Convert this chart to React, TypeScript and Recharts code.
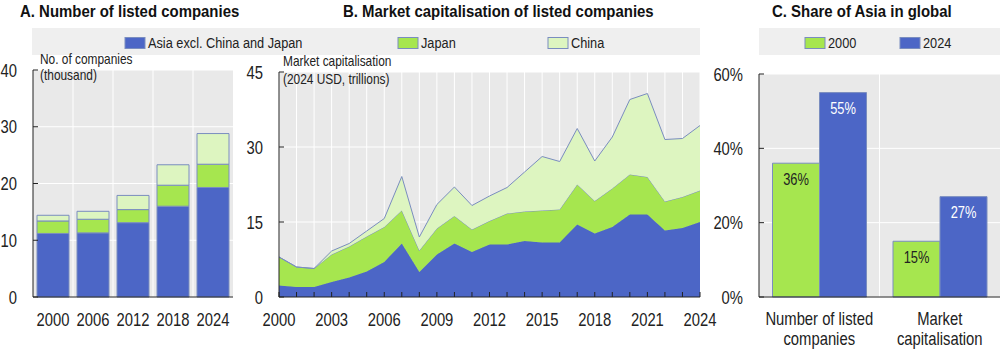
import React from 'react';
import { BarChart, Bar, AreaChart, Area, XAxis, YAxis, CartesianGrid, LabelList } from 'recharts';

// ---- Panel A: number of listed companies (thousand)
const yearsA = [2000, 2006, 2012, 2018, 2024];
const asiaA = [11.2, 11.3, 13.1, 16.0, 19.3];
const japanA = [2.2, 2.4, 2.3, 3.7, 4.1];
const chinaA = [1.0, 1.4, 2.5, 3.6, 5.4];
const ticksA = [0, 10, 20, 30, 40];

// ---- Panel B: market capitalisation (2024 USD, trillions)
const yearsB = [2000, 2001, 2002, 2003, 2004, 2005, 2006, 2007, 2008, 2009, 2010, 2011, 2012, 2013, 2014, 2015, 2016, 2017, 2018, 2019, 2020, 2021, 2022, 2023, 2024];
const asiaB = [2.3, 2.0, 2.0, 3.0, 3.9, 5.1, 7.0, 10.7, 5.0, 8.5, 10.7, 9.0, 10.5, 10.5, 11.2, 10.9, 10.9, 14.5, 12.7, 14.0, 16.5, 16.5, 13.3, 13.8, 15.0];
const japanB = [5.7, 4.0, 3.7, 5.5, 6.2, 7.0, 7.0, 6.6, 4.3, 5.2, 5.5, 4.5, 4.7, 6.2, 5.9, 6.4, 6.6, 8.0, 6.5, 7.7, 8.0, 7.5, 5.8, 6.2, 6.3];
const chinaB = [0, 0, 0, 0.7, 0.6, 1.1, 1.7, 6.8, 2.7, 4.8, 5.8, 4.8, 5.0, 5.2, 7.9, 10.8, 9.6, 11.2, 8.0, 10.3, 15.0, 16.7, 12.4, 11.7, 13.0];
const ticksB = [0, 15, 30, 45];

// ---- Panel C: share of Asia in global (%)
const categoriesC = ['Number of listed companies', 'Market capitalisation'];
const share2000 = [36, 15];
const share2024 = [55, 27];
const ticksC = [0, 20, 40, 60];

const seriesNames = ['Asia excl. China and Japan', 'Japan', 'China'];
const legendC = ['2000', '2024'];
const titles = ['A. Number of listed companies', 'B. Market capitalisation of listed companies', 'C. Share of Asia in global'];
const unitA = ['No. of companies', '(thousand)'];
const unitB = ['Market capitalisation', '(2024 USD, trillions)'];

const FONT = "'Liberation Sans', Arial, sans-serif";
const BLUE = '#4C66C6';
const GREEN = '#A6E64F';
const LIGHT = '#DDF5C0';
const OUTLINE = '#7A8DBF';
const PLOT_BG = '#E9E9E9';
const LEGEND_BG = '#EFEFEF';
const AXIS = '#222222';
const TICK_FS = 18.5;
const SX = 0.8; // horizontal condensing to mimic a narrow face

const dataA = yearsA.map((y, i) => ({ year: String(y), asia: asiaA[i], japan: japanA[i], china: chinaA[i] }));
const dataB = yearsB.map((y, i) => ({ year: y, asia: asiaB[i], japan: japanB[i], china: chinaB[i] }));
const dataC = categoriesC.map((c, i) => ({ cat: c, y2000: share2000[i], y2024: share2024[i] }));

type NTProps = {
  x: number; y: number; size: number; sx?: number; anchor?: 'start' | 'middle' | 'end';
  weight?: string; fill?: string; dy?: string; children: React.ReactNode;
};
const NText = ({ x, y, size, sx = SX, anchor = 'start', weight = 'normal', fill = AXIS, dy, children }: NTProps) => (
  <text
    transform={`translate(${x},${y}) scale(${sx},1)`}
    x={0}
    y={0}
    dy={dy}
    textAnchor={anchor}
    fontSize={size}
    fontWeight={weight}
    fill={fill}
    fontFamily={FONT}
  >
    {children}
  </text>
);

const makeTick = (fmt: (v: any) => string, anchor: 'middle' | 'end', dy: string) => (props: any) => {
  const { x, y, payload } = props;
  const s = fmt(payload.value);
  if (!s) return <g />;
  return <NText x={x} y={y} size={TICK_FS} anchor={anchor} dy={dy}>{s}</NText>;
};

const xTickA = makeTick((v) => String(v), 'middle', '0.71em');
const xTickB = makeTick((v: number) => ((v - 2000) % 3 === 0 ? String(v) : ''), 'middle', '0.71em');
const yTickNum = makeTick((v) => String(v), 'end', '0.355em');
const yTickPct = makeTick((v) => `${v}%`, 'end', '0.355em');

function wrapWords(s: string, max: number): string[] {
  const words = s.split(' ');
  const lines: string[] = [];
  let cur = '';
  for (const w of words) {
    const next = cur ? cur + ' ' + w : w;
    if (next.length > max && cur) {
      lines.push(cur);
      cur = w;
    } else {
      cur = next;
    }
  }
  if (cur) lines.push(cur);
  return lines;
}

const WrapTick = (props: any) => {
  const { x, y, payload } = props;
  const lines = wrapWords(String(payload.value), 16);
  return (
    <g>
      {lines.map((l, i) => (
        <NText key={i} x={x} y={y + i * 19.5} size={TICK_FS} anchor="middle" dy="0.71em">{l}</NText>
      ))}
    </g>
  );
};

const BarLabel = (color: string) => (props: any) => {
  const { x, y, width, value } = props;
  return <NText x={x + width / 2} y={y + 10} size={16.5} sx={0.78} anchor="middle" dy="0.71em" fill={color}>{`${value}%`}</NText>;
};

const gridA = (p: any) => {
  const o = p.offset;
  const n = yearsA.length;
  return Array.from({ length: n - 1 }, (_, k) => o.left + (o.width * (k + 1)) / n);
};
const gridC = (p: any) => {
  const o = p.offset;
  const n = categoriesC.length;
  return Array.from({ length: n - 1 }, (_, k) => o.left + (o.width * (k + 1)) / n);
};

const LegendItem = ({ x, color, label }: { x: number; color: string; label: string }) => (
  <g>
    <rect x={x} y={37.5} width={20} height={11} fill={color} stroke={OUTLINE} strokeWidth={1} />
    <NText x={x + 23} y={47.5} size={14.5} sx={0.88}>{label}</NText>
  </g>
);

export default function App() {
  return (
    <div style={{ position: 'absolute', left: 0, top: 0, width: 1000, height: 350, background: '#fff', fontFamily: FONT }}>
      {/* Panel A */}
      <div style={{ position: 'absolute', left: 0, top: 0 }}>
        <BarChart width={240} height={350} data={dataA} margin={{ top: 70, right: 7, bottom: 0, left: 0 }} barCategoryGap={4}>
          <CartesianGrid fill={PLOT_BG} stroke="#ffffff" strokeWidth={1} verticalCoordinatesGenerator={gridA} />
          <XAxis dataKey="year" height={53} interval={0} tickSize={0} tickMargin={16} tick={xTickA} axisLine={{ stroke: AXIS }} tickLine={false} />
          <YAxis width={33} domain={[0, 40]} ticks={ticksA} interval={0} tickSize={-5} tickMargin={21} tick={yTickNum} axisLine={{ stroke: AXIS }} tickLine={{ stroke: AXIS }} />
          <Bar dataKey="asia" stackId="a" fill={BLUE} stroke={OUTLINE} strokeWidth={1} isAnimationActive={false} />
          <Bar dataKey="japan" stackId="a" fill={GREEN} stroke={OUTLINE} strokeWidth={1} isAnimationActive={false} />
          <Bar dataKey="china" stackId="a" fill={LIGHT} stroke={OUTLINE} strokeWidth={1} isAnimationActive={false} />
        </BarChart>
      </div>

      {/* Panel B */}
      <div style={{ position: 'absolute', left: 240, top: 0 }}>
        <AreaChart width={480} height={350} data={dataB} margin={{ top: 72, right: 20, bottom: 0, left: 0 }}>
          <CartesianGrid fill={PLOT_BG} stroke="#ffffff" strokeWidth={1} />
          <XAxis
            dataKey="year"
            type="number"
            domain={[2000, 2024]}
            ticks={yearsB}
            interval={0}
            height={53}
            tickSize={-5}
            tickMargin={21}
            tick={xTickB}
            axisLine={{ stroke: AXIS }}
            tickLine={{ stroke: AXIS }}
          />
          <YAxis width={39} domain={[0, 45]} ticks={ticksB} interval={0} tickSize={-5} tickMargin={21} tick={yTickNum} axisLine={{ stroke: AXIS }} tickLine={{ stroke: AXIS }} />
          <Area type="linear" dataKey="asia" stackId="b" fill={BLUE} fillOpacity={1} stroke={BLUE} strokeWidth={1} isAnimationActive={false} />
          <Area type="linear" dataKey="japan" stackId="b" fill={GREEN} fillOpacity={1} stroke={OUTLINE} strokeWidth={1} isAnimationActive={false} />
          <Area type="linear" dataKey="china" stackId="b" fill={LIGHT} fillOpacity={1} stroke={OUTLINE} strokeWidth={1} isAnimationActive={false} />
        </AreaChart>
      </div>

      {/* Panel C */}
      <div style={{ position: 'absolute', left: 710, top: 0 }}>
        <BarChart width={290} height={350} data={dataC} margin={{ top: 74, right: 0, bottom: 0, left: 0 }} barCategoryGap={13.5} barGap={0}>
          <CartesianGrid fill={PLOT_BG} stroke="#ffffff" strokeWidth={1} verticalCoordinatesGenerator={gridC} />
          <XAxis dataKey="cat" height={53} tickSize={0} tickMargin={15} tick={<WrapTick />} axisLine={{ stroke: AXIS }} tickLine={false} interval={0} />
          <YAxis width={49} domain={[0, 60]} ticks={ticksC} interval={0} tickSize={-5} tickMargin={21} tick={yTickPct} axisLine={{ stroke: AXIS }} tickLine={{ stroke: AXIS }} />
          <Bar dataKey="y2000" fill={GREEN} stroke={OUTLINE} strokeWidth={1} isAnimationActive={false}>
            <LabelList dataKey="y2000" content={BarLabel(AXIS)} />
          </Bar>
          <Bar dataKey="y2024" fill={BLUE} stroke={OUTLINE} strokeWidth={1} isAnimationActive={false}>
            <LabelList dataKey="y2024" content={BarLabel('#ffffff')} />
          </Bar>
        </BarChart>
      </div>

      {/* Titles, legends, unit labels */}
      <svg width={1000} height={350} style={{ position: 'absolute', left: 0, top: 0, pointerEvents: 'none' }}>
        <NText x={20} y={17} size={17} sx={0.88} weight="bold" fill="#111">{titles[0]}</NText>
        <NText x={343} y={17} size={17} sx={0.88} weight="bold" fill="#111">{titles[1]}</NText>
        <NText x={772} y={17} size={17} sx={0.88} weight="bold" fill="#111">{titles[2]}</NText>

        <rect x={32} y={28} width={668} height={27} fill={LEGEND_BG} />
        <LegendItem x={125} color={BLUE} label={seriesNames[0]} />
        <LegendItem x={398} color={GREEN} label={seriesNames[1]} />
        <LegendItem x={548} color={LIGHT} label={seriesNames[2]} />

        <rect x={759} y={28} width={241} height={27} fill={LEGEND_BG} />
        <LegendItem x={805} color={GREEN} label={legendC[0]} />
        <LegendItem x={900} color={BLUE} label={legendC[1]} />

        <NText x={40} y={64} size={14} sx={0.85}>{unitA[0]}</NText>
        <NText x={40} y={80} size={14} sx={0.85}>{unitA[1]}</NText>
        <NText x={283} y={66} size={14} sx={0.85}>{unitB[0]}</NText>
        <NText x={283} y={84} size={14} sx={0.85}>{unitB[1]}</NText>
      </svg>
    </div>
  );
}
